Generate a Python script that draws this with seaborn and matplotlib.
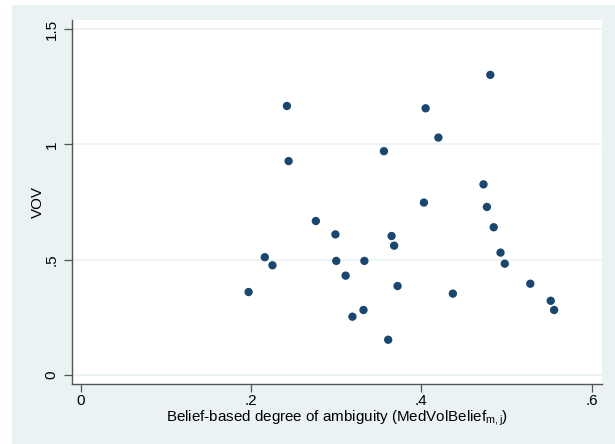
import matplotlib
matplotlib.use("Agg")
import matplotlib.pyplot as plt
import seaborn as sns
import pandas as pd
from matplotlib.patches import Rectangle

# Belief-based ambiguity and VOV per market
ambiguity = [0.197, 0.216, 0.225, 0.242, 0.244, 0.276, 0.299, 0.300, 0.311, 0.319,
             0.332, 0.333, 0.356, 0.361, 0.365, 0.368, 0.372, 0.403, 0.405, 0.420,
             0.437, 0.473, 0.477, 0.481, 0.485, 0.493, 0.498, 0.528, 0.552, 0.556]
vov = [0.360, 0.511, 0.476, 1.167, 0.928, 0.668, 0.610, 0.495, 0.431, 0.253,
       0.282, 0.495, 0.971, 0.153, 0.603, 0.561, 0.386, 0.748, 1.157, 1.030,
       0.353, 0.827, 0.729, 1.302, 0.641, 0.531, 0.483, 0.396, 0.322, 0.282]

x_ticks = [0, 0.2, 0.4, 0.6]
x_tick_labels = ["0", ".2", ".4", ".6"]
y_ticks = [0, 0.5, 1, 1.5]
y_tick_labels = ["0", ".5", "1", "1.5"]

df = pd.DataFrame({"ambiguity": ambiguity, "vov": vov})

sns.set_theme(style="white")
plt.rcParams["font.family"] = ["Liberation Sans", "DejaVu Sans"]
plt.rcParams["mathtext.fontset"] = "custom"
plt.rcParams["mathtext.rm"] = "Liberation Sans"
plt.rcParams["mathtext.it"] = "Liberation Sans"

panel = "#EAF2F3"
navy = "#1A476F"
axis_col = "#555555"

fig = plt.figure(figsize=(6.15, 4.44), dpi=100)
fig.patch.set_facecolor("white")
fig.patches.append(Rectangle((12 / 615, 0), 1 - 12 / 615, 1 - 5 / 444,
                             transform=fig.transFigure, facecolor=panel,
                             edgecolor="none", zorder=-10))

ax = fig.add_axes([71.7 / 615, 1 - 384.3 / 444, (601.7 - 71.7) / 615, (384.3 - 20) / 444])
ax.set_zorder(1)
ax.set_facecolor("white")

sns.scatterplot(data=df, x="ambiguity", y="vov", ax=ax, color=navy, s=36,
                edgecolor="none", linewidth=0, zorder=3)

ax.set_xlim(-0.0109, 0.6119)
ax.set_ylim(-0.0403, 1.540)

ax.set_xticks(x_ticks)
ax.set_xticklabels(x_tick_labels)
ax.set_yticks(y_ticks)
ax.set_yticklabels(y_tick_labels, rotation=90, va="center")

for yv in y_ticks:
    ax.axhline(yv, color=panel, linewidth=1.2, zorder=1)

for side in ["top", "right"]:
    ax.spines[side].set_visible(False)
for side in ["left", "bottom"]:
    ax.spines[side].set_color(axis_col)
    ax.spines[side].set_linewidth(1.0)

ax.tick_params(axis="both", which="major", direction="out", length=5.5, width=0.9,
               color=axis_col, labelsize=11, labelcolor="black", bottom=True, left=True)
ax.tick_params(axis="x", pad=1.5)
ax.tick_params(axis="y", pad=4)

ax.set_xlabel(r"Belief-based degree of ambiguity (MedVolBelief$_{\mathrm{m,j}}$)",
              fontsize=10.9, color="black", labelpad=0.5)
ax.set_ylabel("VOV", fontsize=10.9, color="black", labelpad=0)

fig.savefig("out.png", dpi=100, facecolor=fig.get_facecolor())
